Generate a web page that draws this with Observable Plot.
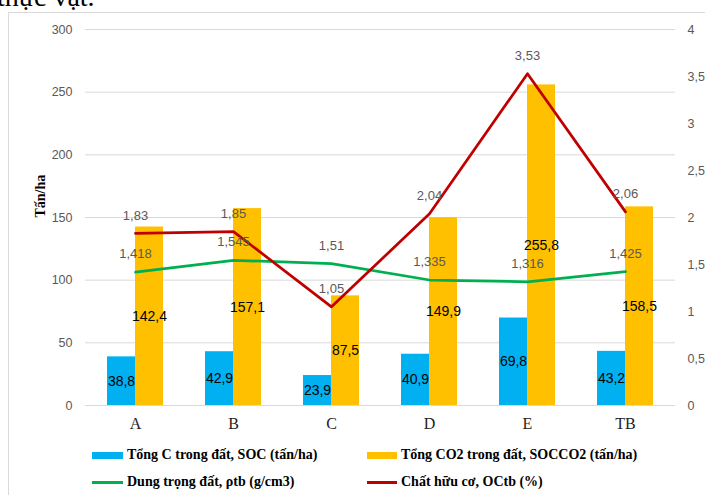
<!DOCTYPE html>
<html>
<head>
<meta charset="utf-8">
<script src="https://cdn.jsdelivr.net/npm/d3@7"></script>
<script src="https://cdn.jsdelivr.net/npm/@observablehq/plot@0.6"></script>
<style>
  html, body { margin: 0; padding: 0; background: #fff; overflow: hidden; }
  #wrap { position: relative; width: 705px; height: 495px; overflow: hidden; }
  #frame { position: absolute; left: 8px; top: 12px; width: 800px; height: 600px; border: 1px solid #d9d9d9; box-sizing: border-box; }
  #top { position: absolute; left: -3px; top: -17px; font: 28px/28px "Liberation Serif", "Times New Roman", serif; color: #000; white-space: nowrap; }
  #chart { position: absolute; left: 0; top: 0; }
  .leg { position: absolute; font: bold 14px "Liberation Serif", "Times New Roman", serif; color: #000; white-space: nowrap; line-height: 16px; }
  .sw { position: absolute; }
</style>
</head>
<body>
<div id="wrap">
  <div id="top">thực vật.</div>
  <div id="frame"></div>
  <div id="chart"></div>
  <div id="legend"></div>
</div>
<script>
const categories = ["A", "B", "C", "D", "E", "TB"];
const soc = [38.8, 42.9, 23.9, 40.9, 69.8, 43.2];
const socco2 = [142.4, 157.1, 87.5, 149.9, 255.8, 158.5];
const density = [1.418, 1.545, 1.51, 1.335, 1.316, 1.425];
const oc = [1.83, 1.85, 1.05, 2.04, 3.53, 2.06];
const leftTicks = [0, 50, 100, 150, 200, 250, 300];
const rightTicks = [0, 0.5, 1, 1.5, 2, 2.5, 3, 3.5, 4];
const seriesNames = [
  "Tổng C trong đất, SOC (tấn/ha)",
  "Tổng CO2 trong đất, SOCCO2 (tấn/ha)",
  "Dung trọng đất, ρtb (g/cm3)",
  "Chất hữu cơ, OCtb (%)"
];
const colors = ["#00B0F0", "#FFC000", "#00B050", "#C00000"];
const yTitle = "Tấn/ha";

const leftMax = 300, rightMax = 4;
const k = leftMax / rightMax;
const fmt = v => String(v).replace(".", ",");

const rows = categories.map((c, i) => ({cat: c, soc: soc[i], co2: socco2[i], rho: density[i], oc: oc[i]}));

const chart = Plot.plot({
  width: 705,
  height: 440,
  marginTop: 29,
  marginBottom: 35,
  marginLeft: 85,
  marginRight: 30,
  style: {fontFamily: "Liberation Sans, Arial, sans-serif", fontSize: "12.5px", color: "#595959", background: "transparent"},
  x: {domain: categories, paddingInner: 0.715, paddingOuter: 0.3575, align: 0.5},
  y: {domain: [0, leftMax]},
  marks: [
    Plot.gridY(leftTicks, {stroke: "#d9d9d9", strokeOpacity: 1}),
    Plot.axisY({ticks: leftTicks, tickSize: 0, tickPadding: 13, label: null, fill: "#595959"}),
    Plot.axisY({anchor: "right", ticks: rightTicks.map(v => v * k), tickFormat: d => fmt(+(d / k).toFixed(2)), tickSize: 0, tickPadding: 12, label: null, fill: "#595959"}),
    Plot.axisX({tickSize: 0, tickPadding: 12, label: null, fontFamily: "Liberation Serif, Times New Roman, serif", fontSize: 16, fill: "#222"}),
    Plot.text([yTitle], {frameAnchor: "left", dx: -45, rotate: -90, fontFamily: "Liberation Serif, Times New Roman, serif", fontWeight: "bold", fontSize: 14, fill: "#000"}),
    Plot.barY(rows, {x: "cat", y: "soc", fill: colors[0], dx: -14}),
    Plot.barY(rows, {x: "cat", y: "co2", fill: colors[1], dx: 14}),
    Plot.line(rows, {x: "cat", y: d => d.rho * k, stroke: colors[2], strokeWidth: 2.75}),
    Plot.line(rows, {x: "cat", y: d => d.oc * k, stroke: colors[3], strokeWidth: 2.75}),
    Plot.text(rows, {x: "cat", y: d => d.soc / 2, text: d => fmt(d.soc), dx: -14, fill: "#000", fontSize: 14}),
    Plot.text(rows, {x: "cat", y: d => d.co2 / 2, text: d => fmt(d.co2), dx: 14, fill: "#000", fontSize: 14}),
    Plot.text(rows, {x: "cat", y: d => d.rho * k, text: d => fmt(d.rho), dy: -18, fill: "#595959", fontSize: 13}),
    Plot.text(rows, {x: "cat", y: d => d.oc * k, text: d => fmt(d.oc), dy: -18, fill: "#595959", fontSize: 13})
  ]
});
document.getElementById("chart").appendChild(chart);

// legend
const legend = document.getElementById("legend");
const items = [
  {x: 92, y: 455, w: 31, type: "rect"},
  {x: 367, y: 455, w: 30, type: "rect"},
  {x: 92, y: 482, w: 31, type: "line"},
  {x: 367, y: 482, w: 30, type: "line"}
];
items.forEach((it, i) => {
  const sw = document.createElement("div");
  sw.className = "sw";
  const h = it.type === "rect" ? 7 : 3;
  sw.style.left = it.x + "px";
  sw.style.top = (it.y - h / 2) + "px";
  sw.style.width = it.w + "px";
  sw.style.height = h + "px";
  sw.style.background = colors[i];
  legend.appendChild(sw);
  const t = document.createElement("div");
  t.className = "leg";
  t.style.left = (it.x + it.w + 4) + "px";
  t.style.top = (it.y - 8) + "px";
  t.textContent = seriesNames[i];
  legend.appendChild(t);
});
</script>
</body>
</html>
